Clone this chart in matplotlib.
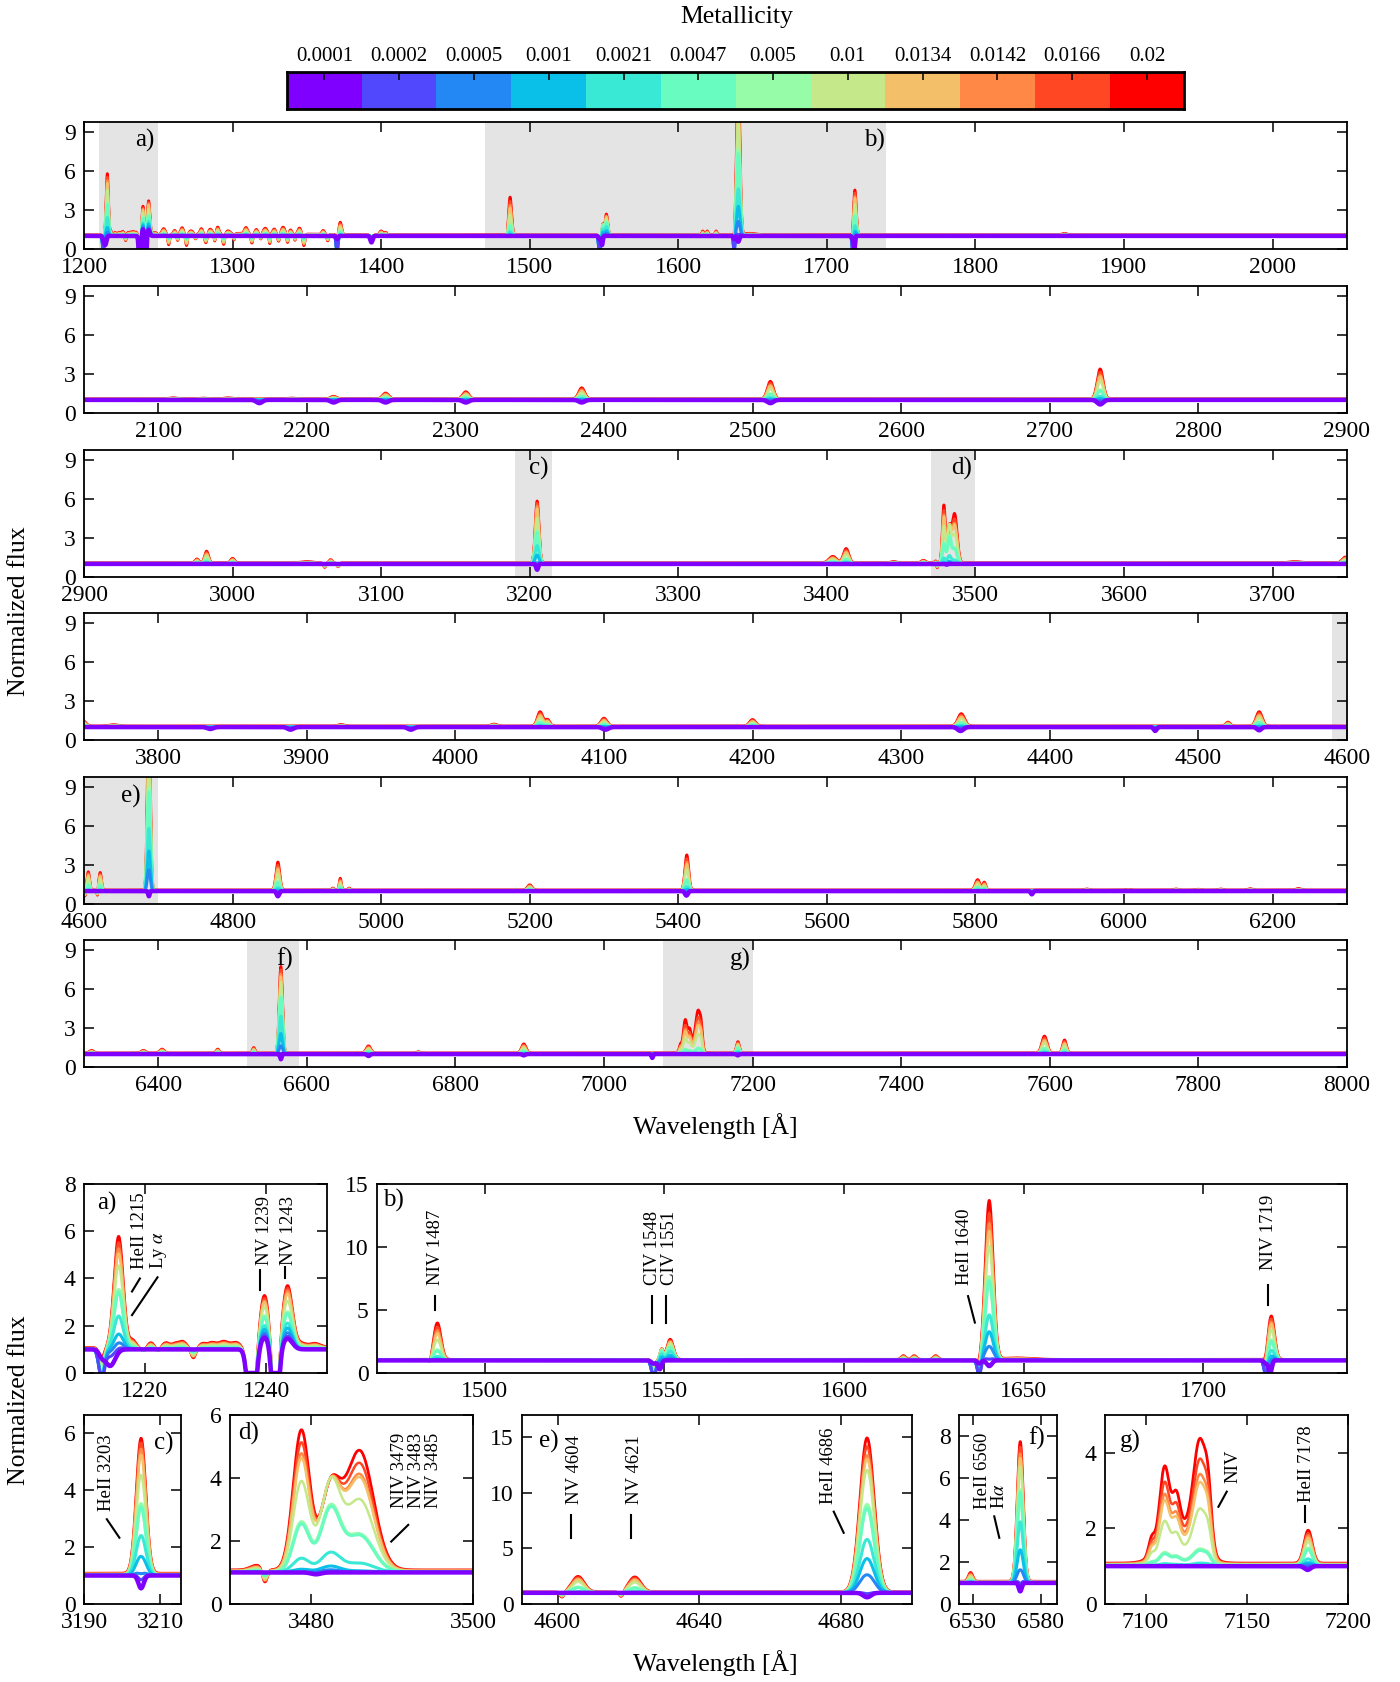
# Espectros normalizados vs metalicidad
import numpy as np
import matplotlib
matplotlib.use('Agg')
import matplotlib.pyplot as plt

plt.rcParams['font.family'] = ['Liberation Serif', 'DejaVu Serif']
plt.rcParams['mathtext.fontset'] = 'stix'
plt.rcParams['axes.linewidth'] = 1.3

# Metalicidades (colorbar)
z_labels = ['0.0001', '0.0002', '0.0005', '0.001', '0.0021', '0.0047',
            '0.005', '0.01', '0.0134', '0.0142', '0.0166', '0.02']

# Escalas por metalicidad (de Z baja a Z alta)
scale_met = [0.0, 0.0, 0.02, 0.05, 0.12, 0.30, 0.32, 0.60, 0.75, 0.80, 0.90, 1.0]
scale_niv = [0.0, 0.0, 0.0, 0.005, 0.02, 0.12, 0.13, 0.45, 0.66, 0.72, 0.84, 1.0]
scale_dip = [1.0, 0.45, 0.2, 0.08, 0.02, 0, 0, 0, 0, 0, 0, 0]
scale_pc = [0.2, 1.0, 1.0, 1.0, 1.0, 0.9, 0.9, 0.6, 0.5, 0.45, 0.4, 0.35]
cont_off = [0.0, 0.0, 0.005, 0.01, 0.015, 0.02, 0.02, 0.04, 0.05, 0.06, 0.07, 0.08]

# Lineas principales: amplitud sobre el continuo para cada Z
amp_lya = [0.0, 0.1, 0.3, 0.65, 1.4, 2.4, 2.5, 3.5, 4.0, 4.2, 4.45, 4.7]
amp_nv1239 = [0.5, 0.6, 0.7, 0.85, 1.0, 1.35, 1.4, 1.75, 1.95, 2.0, 2.1, 2.2]
amp_nv1243 = [0.45, 0.55, 0.7, 0.9, 1.1, 1.5, 1.55, 2.0, 2.3, 2.4, 2.5, 2.6]
amp_niv1487 = [0, 0, 0.05, 0.1, 0.3, 0.75, 0.8, 1.6, 2.1, 2.3, 2.6, 2.9]
amp_civ1549 = [0, 0.05, 0.15, 0.3, 0.5, 0.7, 0.7, 0.8, 0.8, 0.8, 0.8, 0.8]
amp_civ1551 = [0, 0.05, 0.2, 0.4, 0.7, 1.0, 1.05, 1.3, 1.4, 1.45, 1.5, 1.6]
amp_heii1640 = [0, 0.3, 1.2, 2.3, 3.6, 6.3, 6.6, 9.0, 10.2, 10.8, 11.6, 12.6]
amp_niv1719 = [0, 0.05, 0.2, 0.4, 0.8, 1.5, 1.6, 2.4, 2.85, 3.0, 3.25, 3.45]
amp_heii3203 = [0, 0.05, 0.15, 0.7, 1.4, 2.4, 2.5, 3.5, 4.2, 4.4, 4.6, 4.75]
amp_niv3479 = [0, 0, 0.02, 0.09, 0.43, 1.5, 1.56, 2.83, 3.55, 3.69, 4.03, 4.42]
amp_niv3483 = [0, 0.02, 0.08, 0.19, 0.6, 1.95, 2.0, 2.72, 2.64, 2.62, 2.57, 2.52]
amp_niv3485 = [0, 0, 0, 0.04, 0.28, 1.15, 1.18, 2.26, 2.95, 3.04, 3.38, 3.77]
amp_nv4604 = [0, 0, 0.0, 0.02, 0.1, 0.45, 0.48, 0.96, 1.15, 1.2, 1.3, 1.4]
amp_nv4621 = [0, 0, 0.0, 0.02, 0.1, 0.4, 0.43, 0.9, 1.1, 1.15, 1.25, 1.35]
amp_heii4686 = [0, 0.1, 1.7, 3.1, 4.8, 7.6, 7.9, 11.0, 12.0, 12.3, 13.1, 13.85]
amp_halpha = [0, 0.15, 0.7, 1.6, 2.9, 4.3, 4.4, 5.5, 5.9, 6.1, 6.4, 6.65]
amp_heii7178 = [0, 0.02, 0.05, 0.09, 0.18, 0.43, 0.45, 0.61, 0.7, 0.75, 0.8, 0.87]

main_wl = [1215.7, 1239.7, 1243.5, 1486.8, 1549.2, 1551.6, 1640.4, 1718.9,
           3205.0, 3478.8, 3482.4, 3486.0, 4605.8, 4621.8, 4687.3, 6565.0, 7180.3]
main_sig = [0.75, 0.75, 0.8, 1.0, 0.45, 0.9, 1.1, 0.9,
            1.25, 1.0, 1.2, 1.7, 1.7, 1.7, 2.0, 2.2, 2.0]
main_amp = [amp_lya, amp_nv1239, amp_nv1243, amp_niv1487, amp_civ1549, amp_civ1551,
            amp_heii1640, amp_niv1719, amp_heii3203, amp_niv3479, amp_niv3483,
            amp_niv3485, amp_nv4604, amp_nv4621, amp_heii4686, amp_halpha, amp_heii7178]

# Bosque de lineas 1250-1365 (amplitud para Z=0.02)
forest_wl = [1253.6, 1257.0, 1261.0, 1263.0, 1266.0, 1269.0, 1272.0, 1275.0,
             1279.0, 1282.0, 1285.0, 1288.0, 1290.0, 1294.0, 1297.0, 1301.0,
             1309.0, 1313.0, 1316.0, 1319.0, 1322.0, 1325.0, 1328.0, 1331.0,
             1334.0, 1337.0, 1339.0, 1342.0, 1345.0, 1348.0, 1361.0, 1364.0]
forest_sig = [1.1, 0.6, 0.8, 0.5, 1.0, 0.7, 1.3, 0.6, 0.9, 0.8, 1.1, 0.5, 0.8, 0.7, 1.2, 0.6,
              1.0, 0.7, 0.8, 0.6, 1.2, 0.5, 0.9, 0.7, 1.1, 0.6, 0.8, 0.5, 1.0, 0.7, 0.9, 0.6]
forest_amp = [0.45, -0.8, 0.3, -0.5, 0.5, -0.9, 0.25, -0.4, 0.4, -0.7, 0.35, -0.6,
              0.5, -0.85, 0.2, -0.5, 0.45, -0.75, 0.3, -0.45, 0.4, -0.8, 0.35, -0.6,
              0.5, -0.7, 0.3, -0.5, 0.45, -0.9, 0.3, -0.5]

# Lineas menores (amplitud para Z=0.02, escala scale_met)
met_wl = [1218.0, 1219.8, 1221.0, 1222.2, 1223.5, 1225.0, 1226.2, 1228.0, 1229.5,
          1231.0, 1233.0, 1235.0, 1245.8, 1248.0, 1310.0,
          1372.5, 1393.5, 1400.0, 1403.0,
          1484.8, 1616.5, 1619.5, 1625.5, 1648.0, 1860.0,
          2110.0, 2130.0, 2147.0, 2190.0, 2218.0, 2253.0, 2307.0, 2385.0, 2512.0, 2734.0,
          2976.0, 2982.5, 3000.0, 3050.0, 3062.0, 3066.0, 3071.0, 3404.0, 3413.0,
          3445.0, 3465.0, 3473.3, 3474.3, 3715.0, 3749.0,
          3770.0, 3923.0, 4026.0, 4057.0, 4062.0, 4100.0, 4200.0, 4340.5, 4520.0, 4541.0,
          4601.3, 4618.0, 4861.0, 4935.0, 4945.0, 4957.0, 5200.0, 5411.5, 5803.0, 5812.0,
          5950.0, 6005.0, 6070.0, 6100.0, 6130.0, 6170.0, 6235.0,
          6310.0, 6380.0, 6405.0, 6480.0, 6528.5, 6683.0, 6750.0, 6892.0, 7593.0, 7620.0]
met_sig = [0.5, 0.4, 0.5, 0.4, 0.6, 0.5, 0.6, 0.4, 0.5,
           0.7, 0.8, 0.7, 0.8, 0.8, 35.0,
           0.9, 0.8, 1.0, 0.8,
           0.4, 0.6, 0.6, 0.6, 4.0, 1.5,
           3.0, 3.0, 3.0, 3.0, 2.0, 2.0, 2.0, 2.0, 2.0, 2.0,
           1.2, 1.3, 1.3, 4.0, 0.8, 1.0, 0.8, 2.5, 1.8,
           2.0, 1.5, 0.8, 0.3, 4.0, 2.0,
           3.0, 2.0, 2.0, 1.8, 1.5, 2.0, 2.0, 2.2, 1.5, 2.0,
           0.6, 0.6, 2.5, 1.5, 1.4, 1.5, 3.0, 2.5, 3.0, 2.0,
           3.0, 3.0, 3.0, 3.0, 3.0, 3.0, 3.0,
           3.0, 3.0, 3.0, 2.0, 1.6, 3.0, 2.0, 3.0, 3.5, 2.5]
met_amp = [0.3, -0.15, 0.2, -0.15, 0.2, 0.15, 0.25, -0.45, 0.15,
           0.2, 0.25, 0.2, 0.15, 0.15, 0.12,
           0.95, -0.4, 0.3, 0.2,
           -0.45, 0.3, 0.3, 0.3, 0.12, 0.12,
           0.08, 0.06, 0.08, 0.06, 0.2, 0.45, 0.55, 0.85, 1.35, 2.3,
           0.3, 0.9, 0.35, 0.1, -0.35, 0.25, -0.3, 0.5, 1.1,
           0.1, 0.2, 0.15, -0.45, 0.1, 0.45,
           0.1, 0.12, 0.15, 1.1, 0.5, 0.6, 0.5, 0.95, 0.3, 1.1,
           -0.5, -0.5, 2.15, 0.15, 0.9, 0.15, 0.4, 2.7, 0.8, 0.6,
           0.08, 0.05, 0.08, 0.06, 0.08, 0.1, 0.12,
           0.2, 0.2, 0.3, 0.3, 0.42, 0.55, 0.1, 0.7, 1.3, 1.0]

# Mezcla NIV 7103-7128 (escala scale_niv)
niv_wl = [7103.0, 7109.3, 7115.2, 7127.0, 7131.0, 7117.0]
niv_sig = [1.5, 2.4, 1.8, 3.2, 1.6, 8.0]
niv_amp = [0.45, 1.93, 0.85, 2.8, 1.0, 1.0]

# Absorciones a Z baja (profundidad para Z=0.0001)
dip_wl = [1214.3, 1393.5, 1548.7, 1640.4, 1718.6, 2168.0, 2218.0, 2253.0, 2307.0,
          2385.0, 2512.0, 2734.0, 3205.0, 3480.6, 3835.0, 3889.0, 3970.0, 4101.0,
          4340.0, 4471.0, 4541.0, 4687.3, 4861.0, 5411.0, 5876.0, 6565.0, 6683.0,
          6892.0, 7065.0, 7180.0]
dip_sig = [0.8, 0.8, 0.5, 0.7, 0.45, 2.0, 2.0, 2.0, 2.0,
           2.0, 2.0, 2.0, 0.7, 0.6, 2.0, 2.0, 2.0, 2.0,
           2.0, 1.0, 1.5, 1.1, 1.8, 2.0, 1.5, 1.1, 2.0,
           2.0, 1.0, 1.5]
dip_depth = [0.7, 0.5, 0.7, 0.45, 1.0, 0.25, 0.2, 0.2, 0.2,
             0.2, 0.25, 0.35, 0.45, 0.06, 0.15, 0.2, 0.2, 0.2,
             0.3, 0.3, 0.25, 0.4, 0.4, 0.35, 0.25, 0.4, 0.15,
             0.1, 0.3, 0.1]

# Absorciones P-Cygni (escala scale_pc)
pc_wl = [1212.9, 1370.3, 1547.0, 1637.6, 1717.4]
pc_sig = [0.45, 0.6, 0.6, 0.5, 0.5]
pc_depth = [1.2, 1.2, 1.3, 1.2, 1.2]

# Absorciones saturadas NV (todas las Z)
abs_wl = [1237.6, 1241.5]
abs_sig = [0.6, 0.5]
abs_depth = [3.5, 3.5]

# Paneles superiores
top_xlim = [(1200, 2050), (2050, 2900), (2900, 3750), (3750, 4600), (4600, 6300), (6300, 8000)]
top_step = [100, 100, 100, 100, 200, 200]
shade_lim = [(1210, 1250), (1470, 1740), (3190, 3215), (3470, 3500), (4590, 4700),
             (6520, 6590), (7080, 7200)]
shade_lab = ['a)', 'b)', 'c)', 'd)', 'e)', 'f)', 'g)']
shade_lab_x = [1241, 1732, 3206, 3491, 4663, 6570, 7183]

# Paneles de zoom
zoom_xlim = [(1210, 1250), (1470, 1740), (3190, 3215.5), (3470, 3500), (4590, 4700),
             (6520, 6592), (7080, 7200)]
zoom_ylim = [8, 15, 6.65, 6, 17, 9, 5]
zoom_xticks = [[1220, 1240], [1500, 1550, 1600, 1650, 1700], [3190, 3210], [3480, 3500],
               [4600, 4640, 4680], [6530, 6580], [7100, 7150, 7200]]
zoom_yticks = [[0, 2, 4, 6, 8], [0, 5, 10, 15], [0, 2, 4, 6], [0, 2, 4, 6],
               [0, 5, 10, 15], [0, 2, 4, 6, 8], [0, 2, 4]]
zoom_lab_x = [1213.7, 1474.5, 3210.9, 3472.3, 4597.5, 6577.3, 7092.4]
zoom_lab_y = [7.18, 13.7, 5.64, 5.4, 14.6, 7.9, 4.3]

# Etiquetas de lineas
ann_panel = [0, 0, 0, 1, 1, 1, 1, 2, 3, 4, 4, 4, 5, 6, 6]
ann_text = ['HeII 1215\nLy $\\alpha$', 'NV 1239', 'NV 1243', 'NIV 1487', 'CIV 1548\nCIV 1551',
            'HeII 1640', 'NIV 1719', 'HeII 3203', 'NIV 3479\nNIV 3483\nNIV 3485',
            'NV 4604', 'NV 4621', 'HeII 4686', 'HeII 6560\nH$\\alpha$', 'NIV', 'HeII 7178']
ann_x = [1220.9, 1239.7, 1243.7, 1486.4, 1549.1, 1633.6, 1718.2, 3196.0, 3493.0,
         4604.8, 4621.7, 4676.5, 6543.3, 7143.4, 7179.7]
ann_y = [4.4, 4.58, 4.58, 7.0, 7.0, 7.0, 8.2, 3.28, 3.04, 9.0, 9.0, 9.0, 4.5, 3.19, 2.7]

seg_panel = [0, 0, 0, 0, 1, 1, 1, 1, 1, 2, 3, 4, 4, 4, 5, 6, 6]
seg_x0 = [1217.9, 1217.9, 1239.0, 1243.0, 1486.0, 1546.4, 1550.5, 1636.4, 1718.0,
          3196.0, 3489.9, 4603.8, 4620.8, 4677.9, 6545.9, 7136.0, 7178.5]
seg_y0 = [3.45, 2.45, 3.5, 4.0, 5.0, 4.0, 4.0, 4.0, 5.4, 2.98, 1.98, 5.9, 5.9, 8.3, 4.17, 2.57, 2.18]
seg_x1 = [1219.2, 1222.1, 1239.0, 1243.0, 1486.0, 1546.4, 1550.5, 1634.5, 1718.0,
          3199.3, 3492.0, 4603.8, 4620.8, 4680.7, 6549.6, 7140.1, 7178.5]
seg_y1 = [4.0, 4.05, 4.37, 4.5, 6.1, 6.1, 6.1, 6.1, 7.0, 2.33, 2.51, 8.0, 8.0, 6.4, 3.15, 2.97, 2.59]

nz = len(z_labels)
colors = plt.cm.rainbow(np.linspace(0, 1, nz))
lws = [3.2, 2.2, 2.2, 2.2, 2.2, 2.2, 2.6, 1.8, 1.8, 1.8, 1.8, 2.0]

# Construccion de espectros
wl = np.arange(1200.0, 8000.05, 0.05)


def add_gauss(f, c, s, a):
    i0 = np.searchsorted(wl, c - 7 * s)
    i1 = np.searchsorted(wl, c + 7 * s)
    f[i0:i1] += a * np.exp(-0.5 * ((wl[i0:i1] - c) / s) ** 2)


flux = []
for k in range(nz):
    f = np.full(wl.size, 1.0 + cont_off[k])
    for c, s, a in zip(main_wl, main_sig, main_amp):
        add_gauss(f, c, s, a[k])
    for c, s, a in zip(forest_wl + met_wl, forest_sig + met_sig, forest_amp + met_amp):
        add_gauss(f, c, s, a * scale_met[k])
    for c, s, a in zip(niv_wl, niv_sig, niv_amp):
        add_gauss(f, c, s, a * scale_niv[k])
    for c, s, d in zip(dip_wl, dip_sig, dip_depth):
        add_gauss(f, c, s, -d * scale_dip[k])
    for c, s, d in zip(pc_wl, pc_sig, pc_depth):
        add_gauss(f, c, s, -d * scale_pc[k])
    for c, s, d in zip(abs_wl, abs_sig, abs_depth):
        add_gauss(f, c, s, -d)
    flux.append(np.clip(f, 0, None))


def draw_spec(ax, x0, x1):
    m = (wl >= x0 - 1) & (wl <= x1 + 1)
    for k in range(nz - 1, -1, -1):
        ax.plot(wl[m], flux[k][m], color=colors[k], lw=lws[k], zorder=2 + (nz - k) * 0.01)
    ax.set_xlim(x0, x1)
    ax.tick_params(direction='in', top=True, right=True, length=7, width=1.1,
                   labelsize=17, pad=6)


fig = plt.figure(figsize=(14, 16.82), dpi=100)

# Colorbar de metalicidad
cax = fig.add_axes([0.205, 0.9352, 0.641, 0.022])
cax.imshow(np.arange(nz)[None, :], cmap=matplotlib.colors.ListedColormap(colors),
           aspect='auto', extent=[0, nz, 0, 1])
cax.set_xticks(np.arange(nz) + 0.5)
cax.set_xticklabels(z_labels, fontsize=15)
cax.set_yticks([])
cax.xaxis.tick_top()
cax.tick_params(axis='x', direction='in', length=6, width=1.1, pad=4)
for sp in cax.spines.values():
    sp.set_linewidth(2)
fig.text(0.526, 0.990, 'Metallicity', ha='center', va='center', fontsize=18.5)

# Paneles superiores
top_y0 = [0.852, 0.7545, 0.657, 0.560, 0.4625, 0.3656]
for i, (x0, x1) in enumerate(top_xlim):
    ax = fig.add_axes([0.06, top_y0[i], 0.902, 0.0755])
    for (s0, s1), lab, lx in zip(shade_lim, shade_lab, shade_lab_x):
        if s1 > x0 and s0 < x1:
            ax.axvspan(s0, s1, color='#e4e4e4', lw=0, zorder=0)
        if x0 < lx < x1:
            ax.text(lx, 8.3, lab, ha='center', va='center', fontsize=18, zorder=5)
    draw_spec(ax, x0, x1)
    st = top_step[i]
    ticks = np.arange(np.ceil(x0 / st) * st, x1 + 1, st)
    ax.set_xticks(ticks)
    ax.set_xticklabels([str(int(t)) for t in ticks])
    ax.set_ylim(0, 9.75)
    ax.set_yticks([0, 3, 6, 9])

fig.text(0.511, 0.3305, 'Wavelength [Å]', ha='center', va='center', fontsize=18.5)
fig.text(0.0136, 0.6367, 'Normalized flux', ha='center', va='center', rotation=90, fontsize=18.5)

# Paneles de zoom
zoom_rect = [[0.06, 0.1837, 0.1736, 0.1124], [0.2693, 0.1837, 0.6929, 0.1124],
             [0.06, 0.0464, 0.0693, 0.1124], [0.1643, 0.0464, 0.1736, 0.1124],
             [0.3729, 0.0464, 0.2786, 0.1124], [0.685, 0.0464, 0.07, 0.1124],
             [0.7893, 0.0464, 0.1736, 0.1124]]
zaxes = []
for j in range(len(zoom_rect)):
    ax = fig.add_axes(zoom_rect[j])
    x0, x1 = zoom_xlim[j]
    draw_spec(ax, x0, x1)
    ax.set_ylim(0, zoom_ylim[j])
    ax.set_xticks(zoom_xticks[j])
    ax.set_yticks(zoom_yticks[j])
    ax.text(zoom_lab_x[j], zoom_lab_y[j], shade_lab[j], ha='center', va='center',
            fontsize=18, zorder=5)
    zaxes.append(ax)

for p, t, x, y in zip(ann_panel, ann_text, ann_x, ann_y):
    zaxes[p].text(x, y, t, rotation=90, ha='center', va='bottom', multialignment='left',
                  fontsize=13.5, linespacing=1.0, zorder=5)
for p, xa, ya, xb, yb in zip(seg_panel, seg_x0, seg_y0, seg_x1, seg_y1):
    zaxes[p].plot([xa, xb], [ya, yb], 'k-', lw=1.5, zorder=5)

fig.text(0.511, 0.0113, 'Wavelength [Å]', ha='center', va='center', fontsize=18.5)
fig.text(0.0136, 0.1676, 'Normalized flux', ha='center', va='center', rotation=90, fontsize=18.5)

plt.savefig('out.png', dpi=100)
